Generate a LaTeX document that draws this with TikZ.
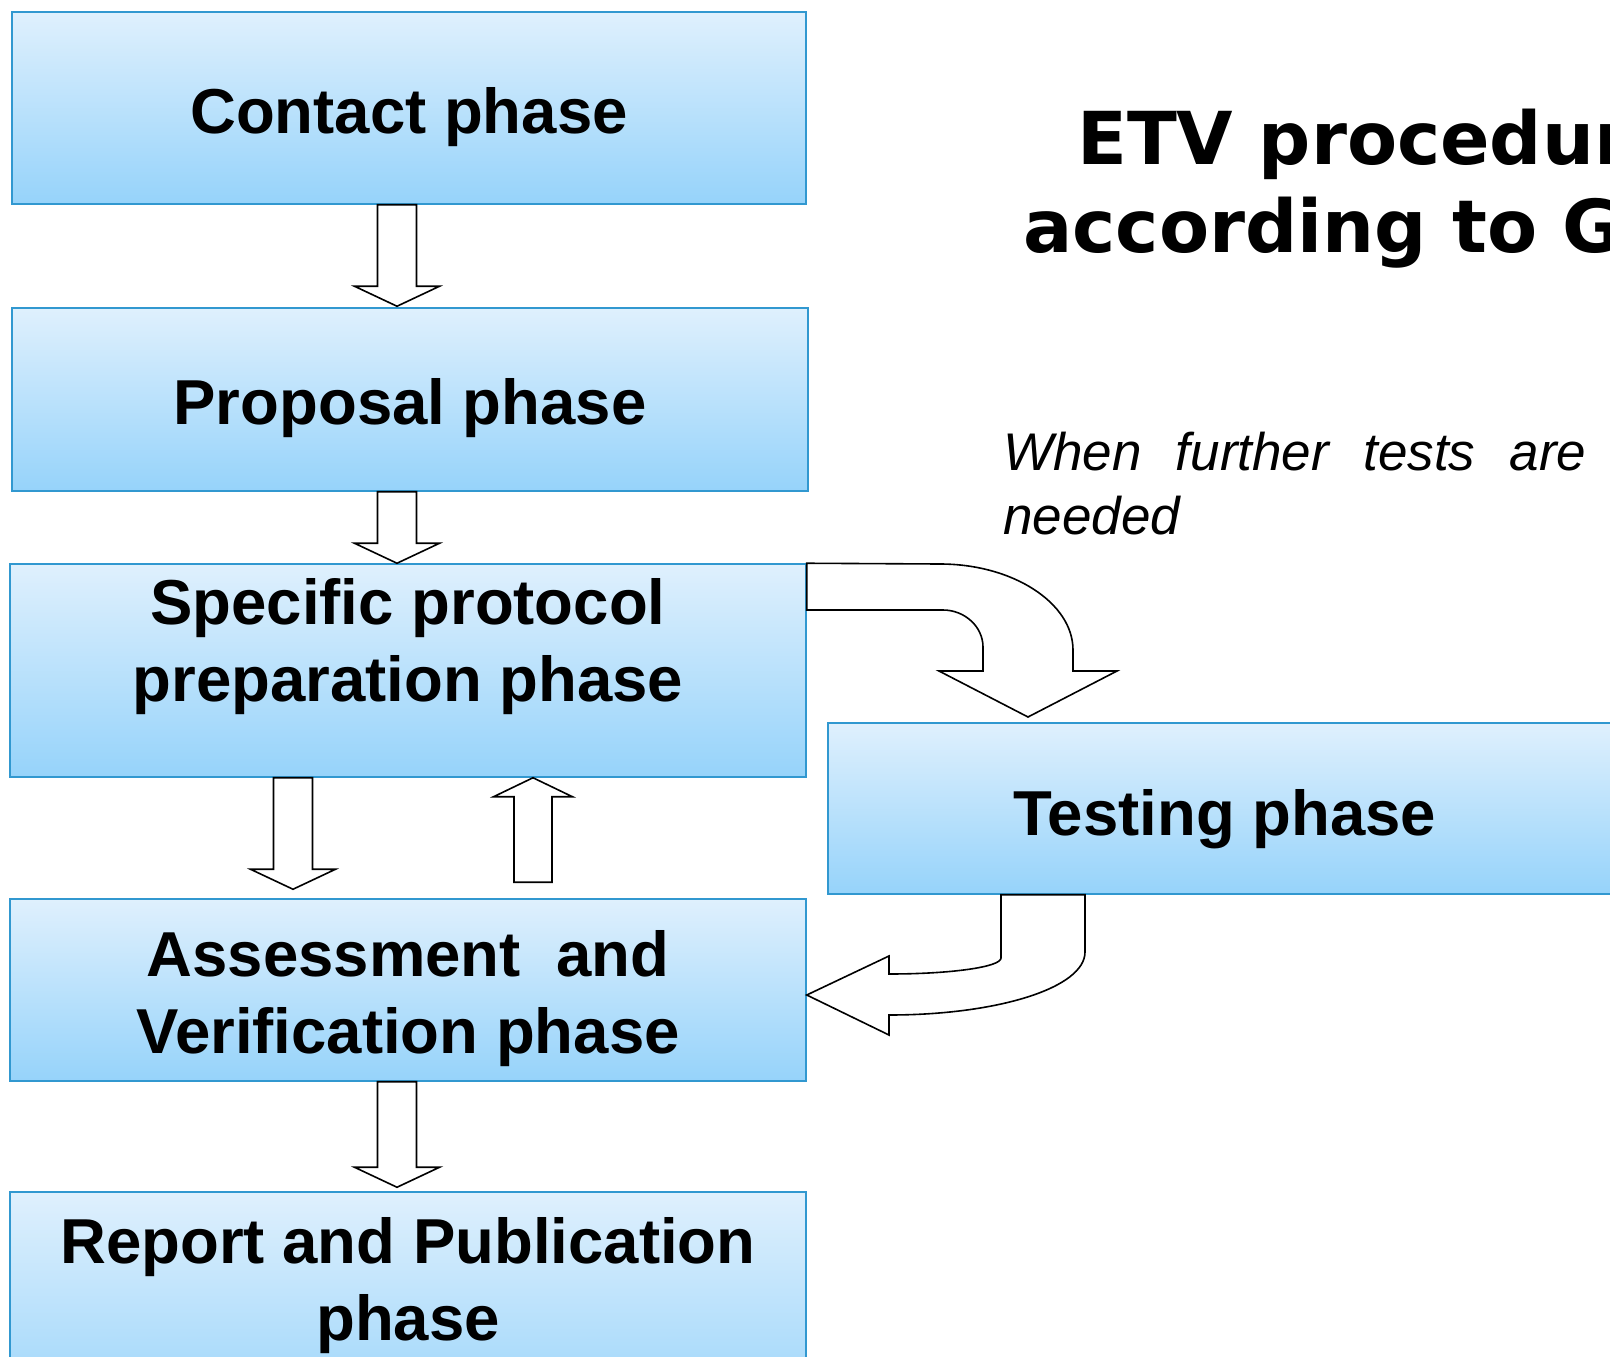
\documentclass[tikz,border=0pt]{standalone}
\usepackage{fontspec}
\setmainfont{Liberation Sans}
\newfontfamily\titlefont{DejaVu Sans}
\usetikzlibrary{calc}

\definecolor{phasetop}{HTML}{DFF0FD}
\definecolor{phasebot}{HTML}{96D3FA}
\definecolor{phaseline}{HTML}{3198D0}

\tikzset{
  phase/.style={draw=phaseline, line width=1.5pt, top color=phasetop, bottom color=phasebot, inner sep=0pt},
  phaselabel/.style={font=\fontsize{63.5}{77}\selectfont\bfseries, align=center, inner sep=0pt, anchor=base},
  blockarr/.style={draw=black, line width=1.6pt, fill=white, line join=miter},
  titletext/.style={font=\titlefont\bfseries\fontsize{73}{88}\selectfont, inner sep=0pt, anchor=base west},
  notetext/.style={font=\itshape\fontsize{53}{64}\selectfont, inner sep=0pt, anchor=base west, text width=583pt, align=justify}
}

% straight block arrow: x, from node, to node, gap above target
\newcommand{\downblock}[4]{%
  \draw[blockarr] let \p1=(#1,0 |- #2.south), \p2=(#1,0 |- #3.north) in
    (\x1-19.5,\y1) -- (\x1-19.5,\y2+#4+20) -- (\x1-42.5,\y2+#4+20) -- (\x1,\y2+#4)
    -- (\x1+42.5,\y2+#4+20) -- (\x1+19.5,\y2+#4+20) -- (\x1+19.5,\y1) -- cycle;}

\begin{document}
\begin{tikzpicture}[x=1pt, y=-1pt]
  \useasboundingbox (0,0) rectangle (1610,1357);
  \clip (0,0) rectangle (1610,1357);

  % phases
  \node[phase, minimum width=794pt, minimum height=192pt] (contact) at (409,108) {};
  \node[phase, minimum width=796pt, minimum height=183pt] (proposal) at (410,399.5) {};
  \node[phase, minimum width=796pt, minimum height=213pt] (spec) at (408,670.5) {};
  \node[phase, minimum width=900pt, minimum height=171pt] (testing) at (1278,808.5) {};
  \node[phase, minimum width=796pt, minimum height=182pt] (assess) at (408,990) {};
  \node[phase, minimum width=796pt, minimum height=240pt] (report) at (408,1312) {};

  % multi-line labels sit on the baseline of their last line
  \node[phaselabel] (contacttext) at (409,133) {Contact phase};
  \node[phaselabel] (proposaltext) at (410,424) {Proposal phase};
  \node[phaselabel] (spectext) at (408,701) {Specific protocol\\preparation phase};
  \node[phaselabel] (testingtext) at (1225,835) {Testing phase};
  \node[phaselabel] (assesstext) at (408,1053.5) {Assessment\ \ and\\Verification phase};
  \node[phaselabel] (reporttext) at (408,1340) {Report and Publication\\phase};

  % title and note
  \node[titletext] (title1) at (1077,164) {ETV procedure};
  \node[titletext] (title2) at (1023,252) {according to G};
  \node[notetext] (note) at (1003,470) {When further tests are needed};

  % block arrows
  \downblock{397}{contact}{proposal}{1}
  \downblock{397}{proposal}{spec}{0}
  \downblock{293}{spec}{assess}{9}
  \downblock{397}{assess}{report}{4}

  \draw[blockarr] let \p1=(533,0 |- spec.south), \p2=(533,0 |- assess.north) in
    (\x1,\y1) -- (\x1+39.5,\y1-19) -- (\x1+19,\y1-19) -- (\x1+19,\y2+16)
    -- (\x1-19,\y2+16) -- (\x1-19,\y1-19) -- (\x1-39.5,\y1-19) -- cycle;

  % to testing and back
  \draw[blockarr] (spec.north east) -- (940,564) .. controls (1013,564) and (1073,603) .. (1073,650)
    -- (1073,671) -- (1117,671) -- (1028,717) -- (939,671) -- (983,671) -- (983,647)
    .. controls (983,627) and (965,610) .. (943,610) -- (spec.east |- 0,610) -- cycle;
  \draw[blockarr] (1001,0 |- testing.south) -- (1001,958) .. controls (1001,967) and (951,974) .. (889,974)
    -- (889,956) -- (assess.east |- 0,995) -- (889,1035) -- (889,1015)
    .. controls (997,1015) and (1085,988) .. (1085,952) -- (1085,0 |- testing.south) -- cycle;
\end{tikzpicture}
\end{document}
